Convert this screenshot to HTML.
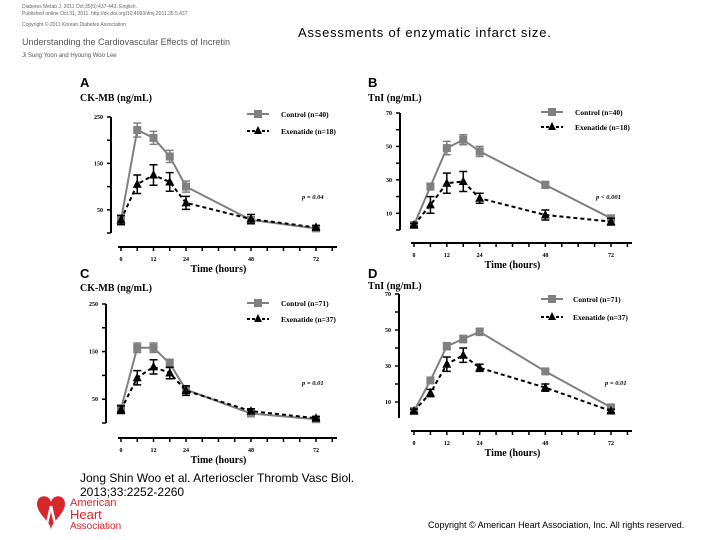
<!DOCTYPE html>
<html><head><meta charset="utf-8">
<style>
body{margin:0;background:#fff;width:720px;height:540px;overflow:hidden;position:relative;font-family:"Liberation Sans",sans-serif}
.t{position:absolute;white-space:nowrap}
</style></head>
<body>
<div class="t" style="left:22px;top:4px;font-size:5px;color:#666">Diabetes Metab J. 2011 Oct;35(5):437-443. English.</div>
<div class="t" style="left:22px;top:11px;font-size:5px;color:#666">Published online Oct 31, 2011. http://dx.doi.org/10.4093/dmj.2011.35.5.437</div>
<div class="t" style="left:22px;top:22px;font-size:5px;color:#666">Copyright © 2011 Korean Diabetes Association</div>
<div class="t" style="left:22px;top:37px;font-size:9px;color:#555">Understanding the Cardiovascular Effects of Incretin</div>
<div class="t" style="left:22px;top:53px;font-size:6px;color:#555">Ji Sung Yoon and Hyoung Woo Lee</div>
<div class="t" style="left:298px;top:25px;font-size:13px;letter-spacing:0.8px;color:#000">Assessments of enzymatic infarct size.</div>

<svg id="chart" width="720" height="540" style="position:absolute;left:0;top:0"></svg>

<div class="t" style="left:80px;top:471px;font-size:12px;color:#000;line-height:14px">Jong Shin Woo et al. Arterioscler Thromb Vasc Biol.<br>2013;33:2252-2260</div>
<svg width="110" height="45" style="position:absolute;left:33px;top:492px">
<path d="M4 12 C4 2 16 2 18 10 C20 2 32 2 32 12 C32 22 18 30 18 38 C18 30 4 22 4 12Z" fill="#d8262d"/>
<path d="M18 14 L13 36 M18 14 L23 36" stroke="#fff" stroke-width="2.5" fill="none"/>
<text x="37" y="14" font-size="11" font-family="Liberation Sans,sans-serif" fill="#d8262d">American</text>
<text x="37" y="27" font-size="13" font-family="Liberation Sans,sans-serif" fill="#d8262d">Heart</text>
<text x="37" y="37" font-size="10" font-family="Liberation Sans,sans-serif" fill="#d8262d">Association</text>
</svg>
<div class="t" style="left:428px;top:520px;font-size:9px;color:#000">Copyright © American Heart Association, Inc. All rights reserved.</div>

<script>
const hours=[0,6,12,18,24,48,72];
const xTickLabels=[0,12,24,48,72];
const aControl=[28,222,205,165,100,28,10];
const aControlErr=[10,15,14,13,12,6,4];
const aExen=[28,105,125,110,65,30,12];
const aExenErr=[10,20,22,20,14,10,4];
const bControl=[3,26,49,54,47,27,7];
const bControlErr=[1,2,4,3,3,2,1];
const bExen=[3,15,28,29,19,9,5];
const bExenErr=[1,5,6,6,3,3,2];
const cControl=[30,158,158,125,70,20,8];
const cControlErr=[8,10,10,9,8,4,3];
const cExen=[28,95,118,105,68,25,10];
const cExenErr=[8,15,15,12,10,5,3];
const dControl=[5,22,41,45,49,27,7];
const dControlErr=[1,1,2,2,2,1,1];
const dExen=[5,15,31,36,29,18,5];
const dExenErr=[1,2,4,4,2,2,1];
const ckTicks=[250,150,50];
const tniTicks=[70,50,30,10];

const NS='http://www.w3.org/2000/svg';
const svg=document.getElementById('chart');
function mk(tag,attrs,parent){const e=document.createElementNS(NS,tag);for(const k in attrs)e.setAttribute(k,attrs[k]);(parent||svg).appendChild(e);return e;}
function txt(x,y,s,size,parent,extra){const e=mk('text',Object.assign({x:x,y:y,'font-size':size,'font-family':'Liberation Serif,serif','font-weight':'bold',fill:'#000'},extra||{}),parent);e.textContent=s;return e;}

function panel(p){
  const g=mk('g',{});
  
  
  const xs=h=>p.x0+(p.x72-p.x0)*h/72;
  const ys=v=>p.y0-(p.y0-p.yTop)*v/p.ymax;
  const lab=txt(p.lx,p.ly,p.id,13,g,{'font-family':'Liberation Sans,sans-serif'});
  
  
  const yt=txt(p.lx,p.ly+p.tOff,p.ytitle,10,g);
  
  
  const ya=mk('line',{x1:p.yax,y1:p.yTop,x2:p.yax,y2:p.yBot,stroke:'#000','stroke-width':2},g);
  
  
  for(let v=p.ymax;v>=0;v-=p.minor){
    const y=ys(v); if(y>p.yBot)break;
    mk('line',{x1:p.yax-4,y1:y,x2:p.yax,y2:y,stroke:'#000','stroke-width':1.5},g);
  }
  p.yticks.forEach(v=>{const t=txt(p.yax-8,ys(v)+2,v,6,g,{'text-anchor':'end'});
    
    });
  const xa=mk('line',{x1:p.x0-3,y1:p.xay,x2:p.xEnd,y2:p.xay,stroke:'#000','stroke-width':2},g);
  
  
  for(let h=0;h<=78;h+=6){const x=xs(h);if(x>p.xEnd)break;mk('line',{x1:x,y1:p.xay,x2:x,y2:p.xay+4,stroke:'#000','stroke-width':1.5},g);}
  xTickLabels.forEach(h=>{const t=txt(xs(h),p.xay+14,h,6,g,{'text-anchor':'middle'});
    
    });
  const xt=txt((p.x0+p.x72)/2,p.xay+25,'Time (hours)',10,g,{'text-anchor':'middle'});
  
  
  function series(vals,errs,color,dash,marker,name){
    const sg=mk('g',{},g);
    
    
    const pts=hours.map((h,i)=>xs(h)+','+ys(vals[i])).join(' ');
    mk('polyline',Object.assign({points:pts,fill:'none',stroke:color,'stroke-width':2},dash?{'stroke-dasharray':'4,3'}:{}),sg);
    hours.forEach((h,i)=>{
      const x=xs(h),y1=ys(vals[i]+errs[i]),y2=ys(vals[i]-errs[i]);
      const eb=mk('path',{d:`M${x-4} ${y1}H${x+4}M${x} ${y1}V${y2}M${x-4} ${y2}H${x+4}`,stroke:color,'stroke-width':1.5,fill:'none'},sg);
      
      
      const y=ys(vals[i]);
      let m;
      if(marker==='sq')m=mk('rect',{x:x-4,y:y-4,width:8,height:8,fill:color},sg);
      else m=mk('polygon',{points:`${x},${y-5} ${x+4.5},${y+3.5} ${x-4.5},${y+3.5}`,fill:color},sg);
      
      
    });
  }
  series(p.ctrl,p.ctrlErr,'#808080',false,'sq','control-series');
  series(p.exen,p.exenErr,'#000',true,'tri','exenatide-series');
  const lg=mk('g',{},g);
  
  
  mk('line',{x1:p.legX,y1:p.legY1,x2:p.legX+22,y2:p.legY1,stroke:'#808080','stroke-width':2},lg);
  mk('rect',{x:p.legX+7,y:p.legY1-4,width:8,height:8,fill:'#808080'},lg);
  txt(p.legTx,p.legY1+3,p.ctrlLabel,7.5,lg);
  mk('line',{x1:p.legX,y1:p.legY2,x2:p.legX+22,y2:p.legY2,stroke:'#000','stroke-width':2,'stroke-dasharray':'3,2'},lg);
  mk('polygon',{points:`${p.legX+11},${p.legY2-5} ${p.legX+15},${p.legY2+3} ${p.legX+7},${p.legY2+3}`,fill:'#000'},lg);
  txt(p.legTx,p.legY2+3,p.exenLabel,7.5,lg);
  const pv=txt(p.px,p.py,p.pText,6.5,g,{'font-style':'italic'});
  
  
}

panel({id:'A',lx:80,ly:87,tOff:14,ytitle:'CK-MB (ng/mL)',yax:111,yTop:117,yBot:233,y0:233,ymax:250,minor:50,yticks:ckTicks,
  x0:121,x72:316,xEnd:337,xay:247,ctrl:aControl,ctrlErr:aControlErr,exen:aExen,exenErr:aExenErr,
  legX:247,legTx:281,legY1:114,legY2:131,ctrlLabel:'Control (n=40)',exenLabel:'Exenatide (n=18)',px:302,py:199,pText:'p = 0.04'});
panel({id:'B',lx:368,ly:87,tOff:14,ytitle:'TnI (ng/mL)',yax:400,yTop:113,yBot:230,y0:230,ymax:70,minor:10,yticks:tniTicks,
  x0:414,x72:611,xEnd:632,xay:243,ctrl:bControl,ctrlErr:bControlErr,exen:bExen,exenErr:bExenErr,
  legX:541,legTx:575,legY1:112,legY2:127,ctrlLabel:'Control (n=40)',exenLabel:'Exenatide (n=18)',px:596,py:199,pText:'p < 0.001'});
panel({id:'C',lx:80,ly:278,tOff:13,ytitle:'CK-MB (ng/mL)',yax:106,yTop:304,yBot:423,y0:423,ymax:250,minor:50,yticks:ckTicks,
  x0:121,x72:316,xEnd:337,xay:438,ctrl:cControl,ctrlErr:cControlErr,exen:cExen,exenErr:cExenErr,
  legX:247,legTx:281,legY1:303,legY2:319,ctrlLabel:'Control  (n=71)',exenLabel:'Exenatide (n=37)',px:302,py:385,pText:'p = 0.01'});
panel({id:'D',lx:368,ly:278,tOff:11,ytitle:'TnI (ng/mL)',yax:399,yTop:294,yBot:418,y0:420,ymax:70,minor:10,yticks:tniTicks,
  x0:414,x72:611,xEnd:632,xay:431,ctrl:dControl,ctrlErr:dControlErr,exen:dExen,exenErr:dExenErr,
  legX:541,legTx:573,legY1:299,legY2:317,ctrlLabel:'Control (n=71)',exenLabel:'Exenatide (n=37)',px:605,py:385,pText:'p = 0.01'});
</script>
</body></html>
